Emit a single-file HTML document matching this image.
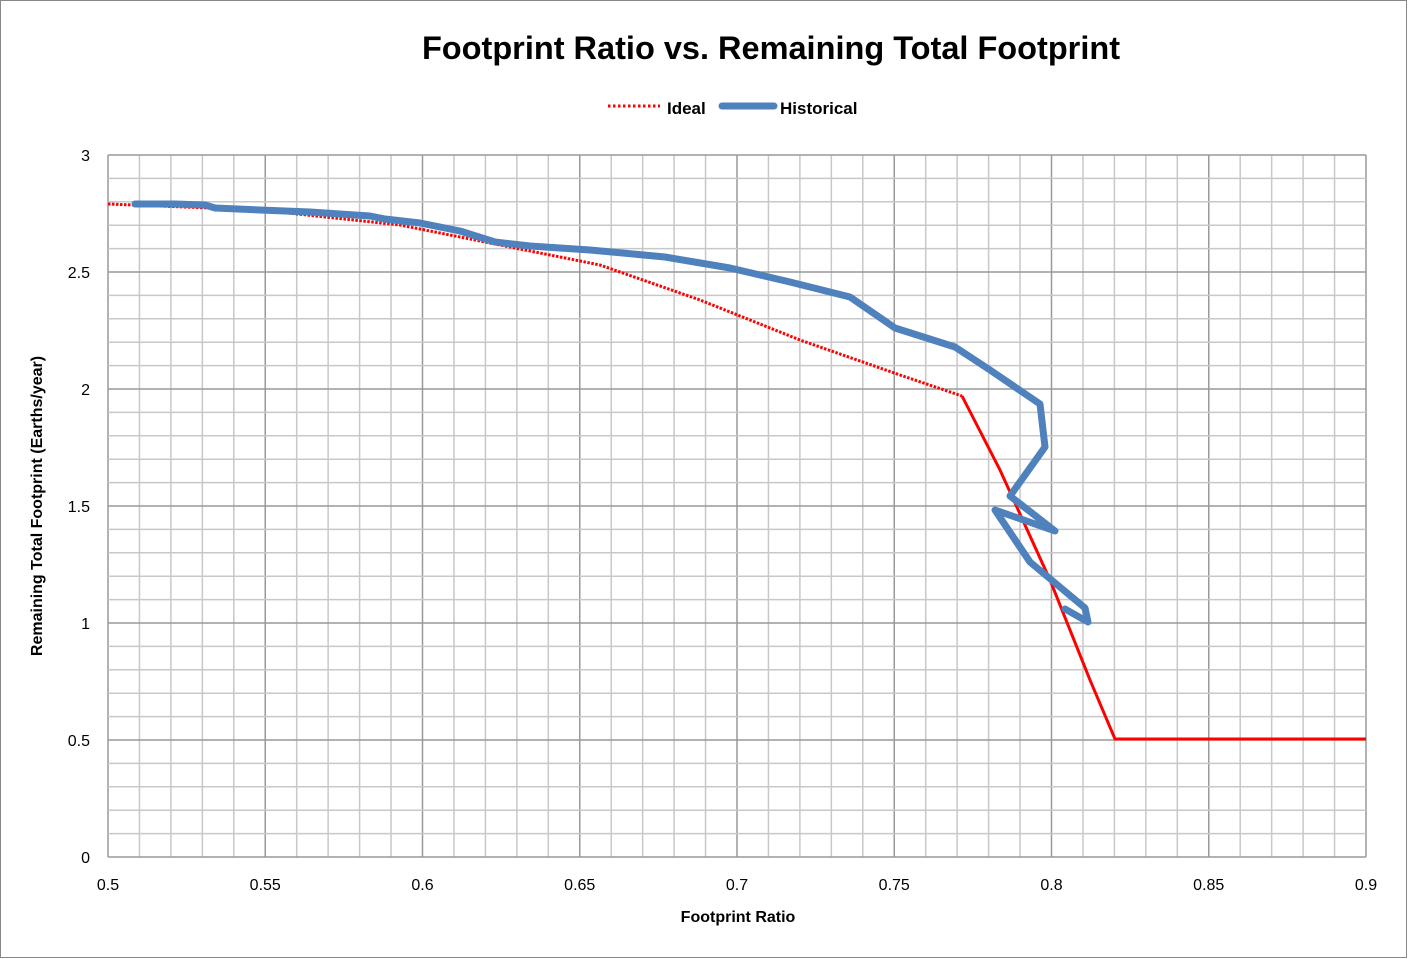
<!DOCTYPE html>
<html><head><meta charset="utf-8"><style>
html,body{margin:0;padding:0;background:#fff;}
svg{display:block;font-family:"Liberation Sans",sans-serif;}
</style></head><body>
<svg width="1408" height="959" viewBox="0 0 1408 959" xmlns="http://www.w3.org/2000/svg">
<rect x="0.5" y="0.5" width="1406" height="957" fill="#fff" stroke="#888"/>
<g id="grid"></g>
<text x="771" y="59" text-anchor="middle" font-size="32.5" font-weight="bold" fill="#000">Footprint Ratio vs. Remaining Total Footprint</text>
<line x1="608" y1="106" x2="660" y2="106" stroke="#f00" stroke-width="3" stroke-dasharray="2.5 2.5"/>
<text x="667" y="114" font-size="17" font-weight="bold">Ideal</text>
<line x1="722" y1="106" x2="774" y2="106" stroke="#4f81bd" stroke-width="7" stroke-linecap="round"/>
<text x="780" y="114" font-size="17" font-weight="bold">Historical</text>
<text x="738" y="922" text-anchor="middle" font-size="16" font-weight="bold">Footprint Ratio</text>
<text transform="translate(42,506) rotate(-90)" text-anchor="middle" font-size="16" font-weight="bold">Remaining Total Footprint (Earths/year)</text>
<path d="M108,204 L260,210 L400,225 L500,245 L600,265 L700,300 L800,340 L900,375 L962,396" fill="none" stroke="#f00" stroke-width="3" stroke-dasharray="2.5 1.5"/>
<path d="M962,396 L1000,470 L1050,580 L1090,680 L1115,739 L1366,739" fill="none" stroke="#f00" stroke-width="3"/>
<path d="M135,204 L175,204 L205,205 L215,208 L260,210 L310,212 L370,216 L385,219 L420,223 L460,231 L495,242 L530,246 L590,250 L665,257 L730,268 L790,282 L850,297 L895,328 L955,347 L990,370 L1040,404 L1045,447 L1010,496 L1055,531 L995,510 L1030,562 L1085,608 L1088,622 L1065,609" fill="none" stroke="#4f81bd" stroke-width="7" stroke-linejoin="round" stroke-linecap="round"/>
</svg>
<script>
(function(){
var g=document.getElementById('grid'),s='';
var x0=108,x1=1366,y0=155,y1=857;
for(var i=0;i<=40;i++){var x=x0+(x1-x0)*i/40;var maj=i%5==0;
s+='<line x1="'+x+'" y1="'+y0+'" x2="'+x+'" y2="'+y1+'" stroke="'+(maj?'#999':'#c8c8c8')+'" stroke-width="1.5"/>';
if(maj){var v=(0.5+i*0.01);var t=(Math.round(v*100)/100).toString();s+='<text x="'+x+'" y="890" text-anchor="middle" font-size="16">'+t+'</text>';}}
for(var j=0;j<=30;j++){var y=y1-(y1-y0)*j/30;var maj=j%5==0;
s+='<line x1="'+x0+'" y1="'+y+'" x2="'+x1+'" y2="'+y+'" stroke="'+(maj?'#999':'#c8c8c8')+'" stroke-width="1.5"/>';
if(maj){var v=j/10;s+='<text x="90" y="'+(y+6)+'" text-anchor="end" font-size="16">'+v+'</text>';}}
g.innerHTML=s;
})();
</script>
</body></html>
